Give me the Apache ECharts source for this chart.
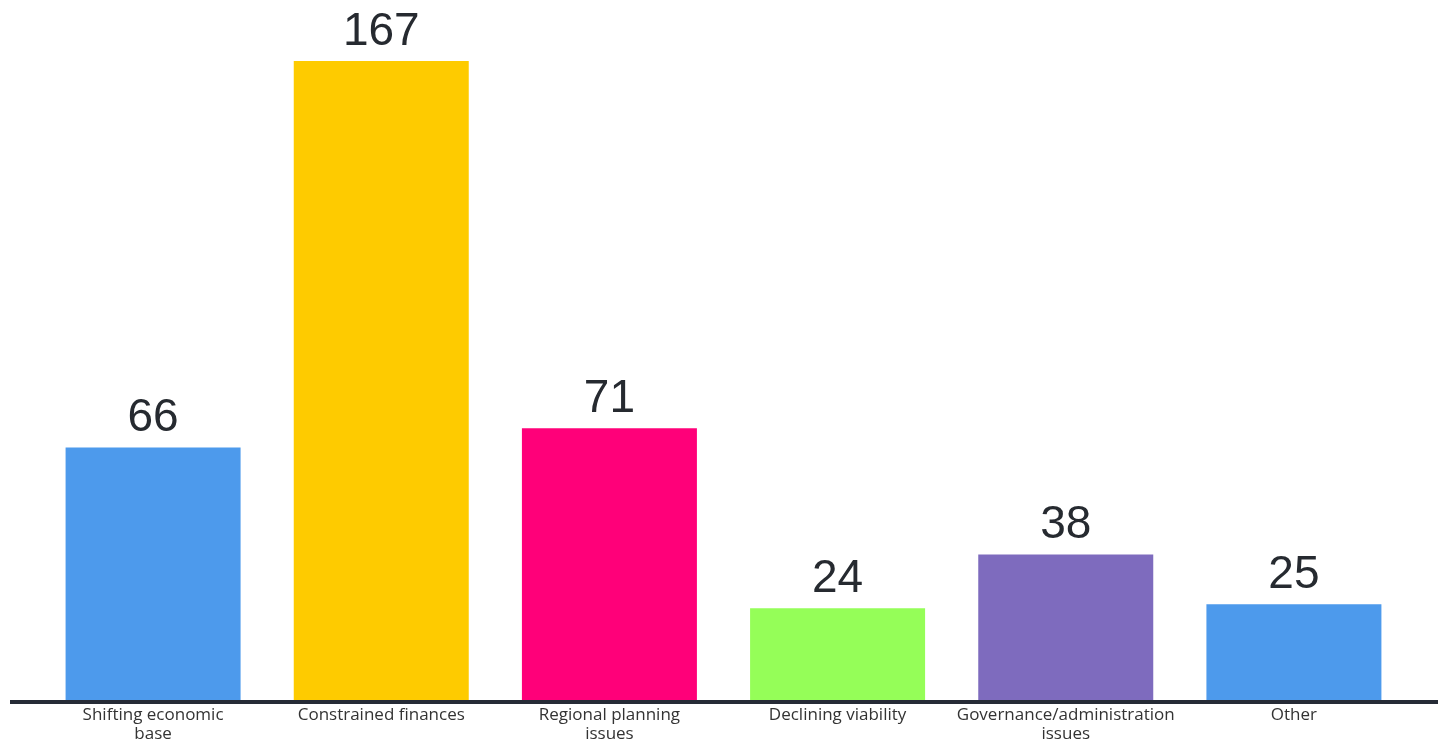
<!DOCTYPE html>
<html>
<head>
<meta charset="utf-8">
<script src="https://cdn.jsdelivr.net/npm/echarts@6/dist/echarts.min.js"></script>
<style>
  html, body { margin: 0; padding: 0; background: #fff; }
  #chart { width: 1438px; height: 749px; }
</style>
</head>
<body>
<div id="chart"></div>
<script>
var categories = [
  'Shifting economic\nbase',
  'Constrained finances',
  'Regional planning\nissues',
  'Declining viability',
  'Governance/administration\nissues',
  'Other'
]
var counts = [66, 167, 71, 24, 38, 25]
var barColors = ['#4d9aec', '#fecb00', '#ff0079', '#95fe58', '#7e6bbe', '#4d9aec']

var chart = echarts.init(document.getElementById('chart'))

var option = {
  animation: false,
  grid: { left: 39, right: 30, top: 61, bottom: 49 },
  xAxis: {
    type: 'category',
    data: categories,
    axisLine: { show: false },
    axisTick: { show: false },
    axisLabel: {
      interval: 0,
      margin: 6,
      color: '#333',
      fontSize: 17,
      lineHeight: 19,
      fontFamily: 'Open Sans'
    }
  },
  yAxis: {
    type: 'value',
    min: 0,
    max: 167,
    show: false,
    splitLine: { show: false }
  },
  // baseline runs wider than the plot area
  graphic: [{
    type: 'line',
    shape: { x1: 10, y1: 702, x2: 1438, y2: 702 },
    style: { stroke: '#262b36', lineWidth: 4 },
    z: 10
  }],
  series: [{
    type: 'bar',
    barWidth: 175,
    data: counts.map(function (v, i) {
      return { value: v, itemStyle: { color: barColors[i] } }
    }),
    label: {
      show: true,
      position: 'top',
      distance: 6,
      color: '#262a30',
      fontSize: 46,
      fontFamily: 'Liberation Sans'
    }
  }]
}

chart.setOption(option)
</script>
</body>
</html>
